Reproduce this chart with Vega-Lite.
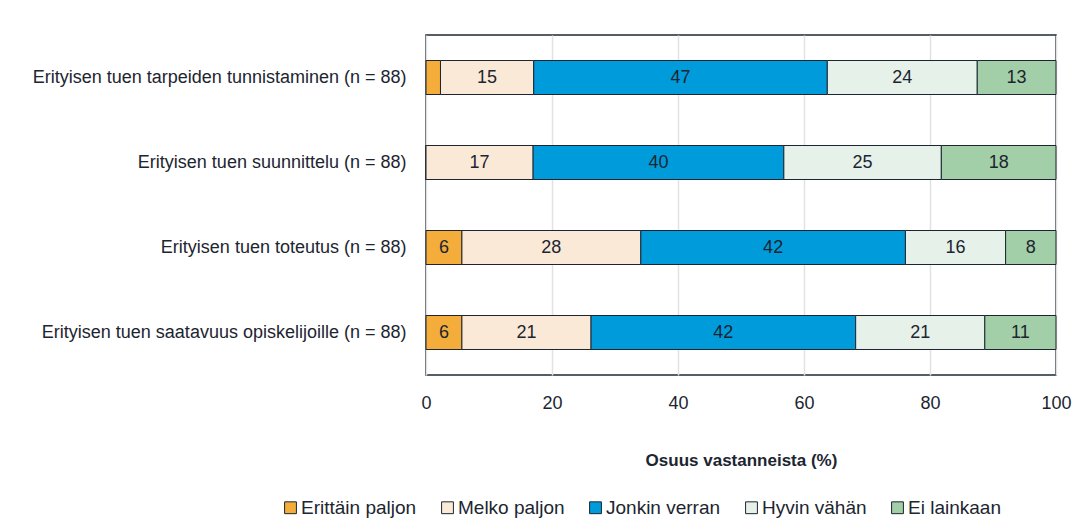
{
  "$schema": "https://vega.github.io/schema/vega-lite/v6.json",
  "autosize": {"type": "none"},
  "width": 630,
  "height": 340,
  "padding": {"left": 426, "top": 35, "right": 35, "bottom": 157},
  "background": "white",
  "config": {
    "font": "Liberation Sans",
    "view": {"stroke": "#1c2a35", "strokeWidth": 1.5},
    "text": {"font": "Liberation Sans"}
  },
  "data": {
    "values": [
      {"item": "Erityisen tuen tarpeiden tunnistaminen (n = 88)", "cat": "Erittäin paljon", "k": 1, "v": 2.3},
      {"item": "Erityisen tuen tarpeiden tunnistaminen (n = 88)", "cat": "Melko paljon", "k": 2, "v": 14.8},
      {"item": "Erityisen tuen tarpeiden tunnistaminen (n = 88)", "cat": "Jonkin verran", "k": 3, "v": 46.6},
      {"item": "Erityisen tuen tarpeiden tunnistaminen (n = 88)", "cat": "Hyvin vähän", "k": 4, "v": 23.8},
      {"item": "Erityisen tuen tarpeiden tunnistaminen (n = 88)", "cat": "Ei lainkaan", "k": 5, "v": 12.5},
      {"item": "Erityisen tuen suunnittelu (n = 88)", "cat": "Erittäin paljon", "k": 1, "v": 0},
      {"item": "Erityisen tuen suunnittelu (n = 88)", "cat": "Melko paljon", "k": 2, "v": 17.0},
      {"item": "Erityisen tuen suunnittelu (n = 88)", "cat": "Jonkin verran", "k": 3, "v": 39.8},
      {"item": "Erityisen tuen suunnittelu (n = 88)", "cat": "Hyvin vähän", "k": 4, "v": 25.0},
      {"item": "Erityisen tuen suunnittelu (n = 88)", "cat": "Ei lainkaan", "k": 5, "v": 18.2},
      {"item": "Erityisen tuen toteutus (n = 88)", "cat": "Erittäin paljon", "k": 1, "v": 5.7},
      {"item": "Erityisen tuen toteutus (n = 88)", "cat": "Melko paljon", "k": 2, "v": 28.4},
      {"item": "Erityisen tuen toteutus (n = 88)", "cat": "Jonkin verran", "k": 3, "v": 42.0},
      {"item": "Erityisen tuen toteutus (n = 88)", "cat": "Hyvin vähän", "k": 4, "v": 15.9},
      {"item": "Erityisen tuen toteutus (n = 88)", "cat": "Ei lainkaan", "k": 5, "v": 8.0},
      {"item": "Erityisen tuen saatavuus opiskelijoille (n = 88)", "cat": "Erittäin paljon", "k": 1, "v": 5.7},
      {"item": "Erityisen tuen saatavuus opiskelijoille (n = 88)", "cat": "Melko paljon", "k": 2, "v": 20.5},
      {"item": "Erityisen tuen saatavuus opiskelijoille (n = 88)", "cat": "Jonkin verran", "k": 3, "v": 42.0},
      {"item": "Erityisen tuen saatavuus opiskelijoille (n = 88)", "cat": "Hyvin vähän", "k": 4, "v": 20.5},
      {"item": "Erityisen tuen saatavuus opiskelijoille (n = 88)", "cat": "Ei lainkaan", "k": 5, "v": 11.3}
    ]
  },
  "transform": [
    {"stack": "v", "groupby": ["item"], "sort": [{"field": "k", "order": "ascending"}], "as": ["x0", "x1"]},
    {"calculate": "(datum.x0 + datum.x1) / 2", "as": "xm"}
  ],
  "encoding": {
    "y": {
      "field": "item",
      "type": "nominal",
      "sort": [
        "Erityisen tuen tarpeiden tunnistaminen (n = 88)",
        "Erityisen tuen suunnittelu (n = 88)",
        "Erityisen tuen toteutus (n = 88)",
        "Erityisen tuen saatavuus opiskelijoille (n = 88)"
      ],
      "scale": {"paddingInner": 0.6, "paddingOuter": 0.3},
      "axis": {
        "title": null,
        "domain": false,
        "ticks": false,
        "labelPadding": 20,
        "labelFontSize": 18,
        "labelColor": "#1c2530",
        "labelLimit": 0
      }
    }
  },
  "layer": [
    {
      "mark": {"type": "bar", "stroke": "#1c2530", "strokeWidth": 1},
      "encoding": {
        "x": {
          "field": "x0",
          "type": "quantitative",
          "scale": {"domain": [0, 100], "nice": false},
          "axis": {
            "values": [0, 20, 40, 60, 80, 100],
            "grid": true,
            "gridColor": "#e2e2e2",
            "gridWidth": 1.5,
            "domain": false,
            "ticks": false,
            "labelFlush": false,
            "labelPadding": 19,
            "labelFontSize": 18,
            "labelColor": "#1c2530",
            "title": "Osuus vastanneista (%)",
            "titleFontSize": 17,
            "titleFontWeight": "bold",
            "titleColor": "#1c2530",
            "titlePadding": 40
          }
        },
        "x2": {"field": "x1"},
        "color": {
          "field": "cat",
          "type": "nominal",
          "scale": {
            "domain": ["Erittäin paljon", "Melko paljon", "Jonkin verran", "Hyvin vähän", "Ei lainkaan"],
            "range": ["#f4ad3a", "#fbe9d8", "#009bdb", "#e6f1ea", "#a2cfa7"]
          },
          "legend": {
            "title": null,
            "orient": "none",
            "direction": "horizontal",
            "legendX": -145,
            "legendY": 463,
            "symbolType": "square",
            "symbolSize": 140,
            "symbolStrokeColor": "#1c2530",
            "symbolStrokeWidth": 1,
            "labelFontSize": 19,
            "labelColor": "#1c2530",
            "labelOffset": 1,
            "columnPadding": 21
          }
        }
      }
    },
    {
      "transform": [{"filter": "datum.v >= 3"}],
      "mark": {"type": "text", "fontSize": 18, "color": "#1c2530"},
      "encoding": {
        "x": {"field": "xm", "type": "quantitative"},
        "text": {"field": "v", "type": "quantitative", "format": ".0f"}
      }
    }
  ]
}
